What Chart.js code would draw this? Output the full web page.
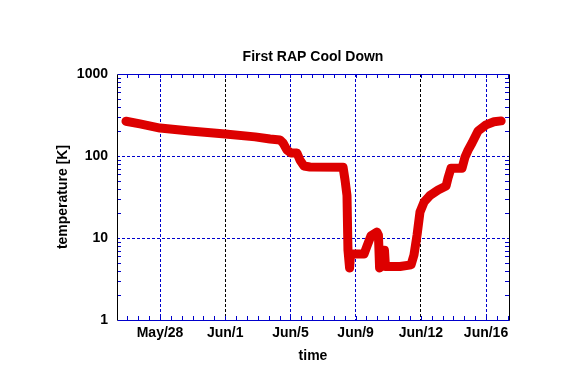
<!DOCTYPE html>
<html>
<head>
<meta charset="utf-8">
<script src="https://cdn.jsdelivr.net/npm/chart.js@4.4.1/dist/chart.umd.min.js"></script>
<style>
  html, body { margin: 0; padding: 0; background: #ffffff; }
  #wrap { width: 587px; height: 370px; }
</style>
</head>
<body>
<div id="wrap"><canvas id="cooldown" width="587" height="370"></canvas></div>
<script>
// time in days, counted so that the May/28 tick sits at 4
const days = [
    1.91, 2.77, 4.00, 5.84, 8.00, 9.83, 10.75, 11.36, 11.55, 11.79,
    12.04, 12.40, 12.59, 12.83, 13.20, 15.23, 15.35, 15.47, 15.53, 15.63,
    15.69, 16.52, 16.70, 16.94, 17.31, 17.40, 17.47, 17.56, 17.65, 17.77,
    17.83, 18.72, 19.40, 19.58, 19.77, 19.95, 20.20, 20.56, 21.06, 21.55,
    21.67, 21.85, 22.53, 22.71, 22.90, 23.14, 23.51, 24.00, 24.49, 24.93
];
const temps = [
    265, 246, 219, 202, 186, 171, 161, 157, 144, 118,
    109, 109, 89, 75.5, 73.4, 73, 51, 33, 7.1, 4.3,
    6.4, 6.4, 8.0, 10.6, 11.8, 10.8, 4.3, 4.5, 7.1, 7.1,
    4.5, 4.5, 4.7, 6.2, 10.9, 20.8, 27.5, 33, 38.5, 43,
    54, 71, 71, 97, 118, 144, 202, 240, 262, 268
];
const xTickDays = [4, 8, 12, 16, 20, 24];
const xTickLabels = ['May/28', 'Jun/1', 'Jun/5', 'Jun/9', 'Jun/12', 'Jun/16'];
const yTickValues = [1, 10, 100, 1000];

const BLUE = '#0000cc';
const blackGridLabels = ['Jun/1', 'Jun/12'];
const font = { family: '"Liberation Sans", Arial, sans-serif', size: 14, weight: 'bold' };

// inward minor ticks and the box round the plot
const frameAndTicks = {
    id: 'frameAndTicks',
    afterDraw(chart) {
        const { ctx, chartArea: a, scales: { x, y } } = chart;
        ctx.save();
        ctx.lineWidth = 1;
        ctx.strokeStyle = BLUE;
        ctx.beginPath();
        const step = (xTickDays[1] - xTickDays[0]) / 6;
        let v = xTickDays[0] - Math.floor((xTickDays[0] - x.min) / step) * step;
        for (; v <= x.max; v += step) {
            const px = Math.round(x.getPixelForValue(v)) + 0.5;
            ctx.moveTo(px, a.bottom); ctx.lineTo(px, a.bottom - 4);
            ctx.moveTo(px, a.top); ctx.lineTo(px, a.top + 4);
        }
        for (let d = 1; d < 1000; d *= 10) {
            for (let m = 2; m <= 9; m++) {
                const py = Math.round(y.getPixelForValue(d * m)) + 0.5;
                ctx.moveTo(a.left, py); ctx.lineTo(a.left + 4, py);
                ctx.moveTo(a.right, py); ctx.lineTo(a.right - 4, py);
            }
        }
        ctx.stroke();

        const l = a.left + 0.5, r = a.right + 0.5, t = a.top + 0.5, b = a.bottom + 0.5;
        ctx.beginPath();
        ctx.moveTo(l, t); ctx.lineTo(r, t);
        ctx.moveTo(l, b); ctx.lineTo(r, b);
        ctx.stroke();
        ctx.strokeStyle = '#000000';
        ctx.beginPath();
        ctx.moveTo(l, t); ctx.lineTo(l, b);
        ctx.moveTo(r, t); ctx.lineTo(r, b);
        ctx.stroke();
        ctx.restore();
    }
};

const data = {
    datasets: [{
        label: 'temperature',
        data: days.map((d, i) => ({ x: d, y: temps[i] })),
        borderColor: '#dd0000',
        borderWidth: 9,
        borderJoinStyle: 'round',
        borderCapStyle: 'round',
        pointRadius: 0,
        tension: 0,
        fill: false,
    }]
};

const options = {
    responsive: false,
    animation: false,
    layout: { padding: { left: 0, right: 78, top: 0, bottom: 0 } },
    plugins: {
        legend: { display: false },
        tooltip: { enabled: false },
        title: {
            display: true,
            text: 'First RAP Cool Down',
            color: '#000000',
            font: font,
            fullSize: false,
            padding: { top: 48.6, bottom: 8.6 },
        },
    },
    scales: {
        x: {
            type: 'linear',
            min: 1.36,
            max: 25.41,
            afterBuildTicks: (axis) => { axis.ticks = xTickDays.map(v => ({ value: v })); },
            afterFit: (axis) => { axis.height = 50; },
            ticks: {
                color: '#000000',
                font: font,
                padding: 4.5,
                maxRotation: 0,
                autoSkip: false,
                callback: (value) => xTickLabels[xTickDays.indexOf(value)],
            },
            grid: {
                drawTicks: false,
                lineWidth: 1,
                color: (ctx) => {
                    const label = xTickLabels[xTickDays.indexOf(ctx.tick && ctx.tick.value)];
                    return blackGridLabels.includes(label) ? '#000000' : BLUE;
                },
            },
            border: { display: false, dash: [3, 2] },
            title: {
                display: true,
                text: 'time',
                color: '#000000',
                font: font,
                padding: { top: 0, bottom: 5.6 },
            },
        },
        y: {
            type: 'logarithmic',
            min: 1,
            max: 1000,
            afterBuildTicks: (axis) => { axis.ticks = yTickValues.map(v => ({ value: v })); },
            afterFit: (axis) => { axis.width = 117; },
            ticks: {
                color: '#000000',
                font: font,
                padding: 9,
                autoSkip: false,
                callback: (value) => String(value),
            },
            grid: {
                drawTicks: false,
                lineWidth: 1,
                color: (ctx) => {
                    const v = ctx.tick && ctx.tick.value;
                    return (v === 1 || v === 1000) ? 'rgba(0,0,0,0)' : BLUE;
                },
            },
            border: { display: false, dash: [3, 2] },
            title: {
                display: true,
                text: 'temperature [K]',
                color: '#000000',
                font: font,
                padding: { top: 54.6, bottom: 0 },
            },
        },
    },
};

new Chart(document.getElementById('cooldown'), {
    type: 'line',
    data: data,
    options: options,
    plugins: [frameAndTicks],
});
</script>
</body>
</html>
